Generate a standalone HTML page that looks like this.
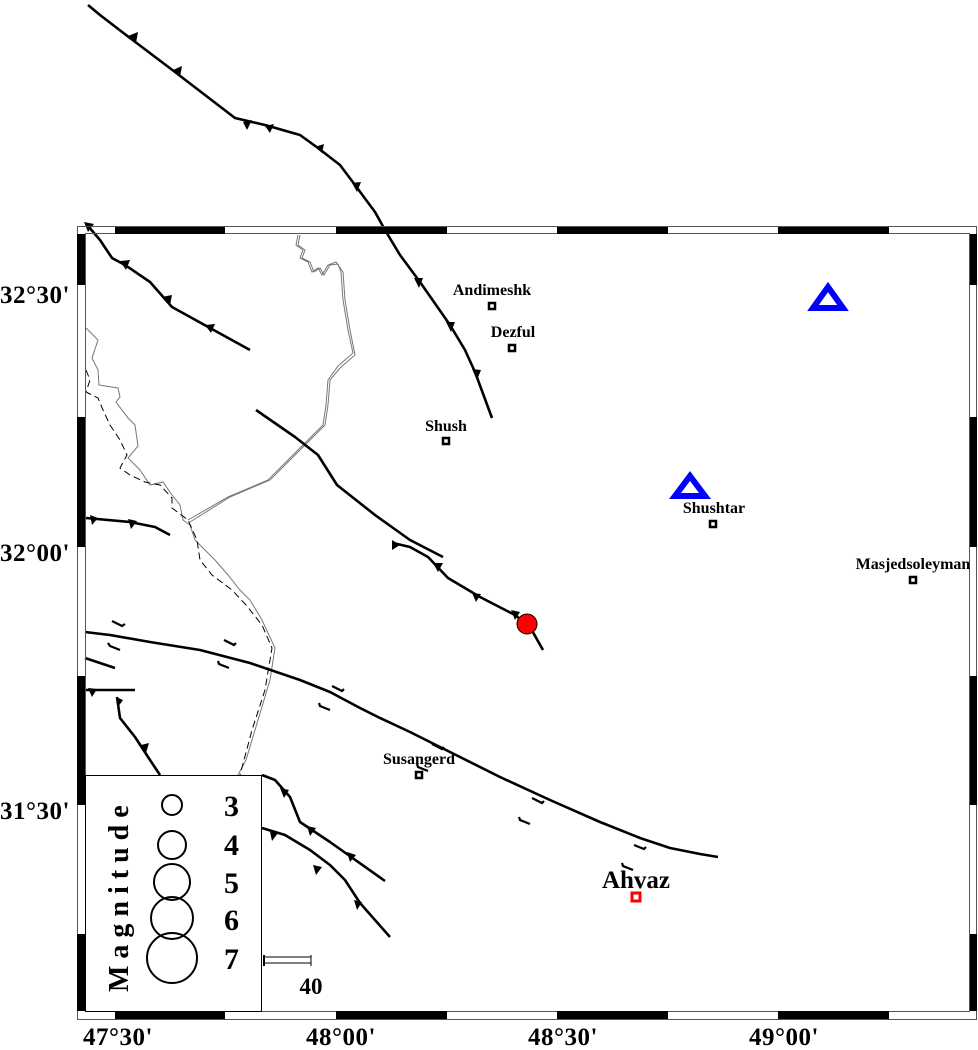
<!DOCTYPE html>
<html><head><meta charset="utf-8"><style>
html,body{margin:0;padding:0;background:#fff;}
svg{display:block;}
text{font-family:"Liberation Serif",serif;font-weight:bold;fill:#000;}
</style></head><body>
<svg width="978" height="1050" viewBox="0 0 978 1050" xmlns="http://www.w3.org/2000/svg">
<rect width="978" height="1050" fill="#fff"/>
<g fill="none" stroke="#777" stroke-width="1">
<path d="M298,235 L296,245 L303,250 L300,258 L308,262 L312,272 L318,268 L322,275 L328,265 L336,262 L343,272 L345,300 L350,330 L355,355 L340,368 L330,380 L328,405 L325,425 L305,445 L290,460 L270,480 L230,497 L190,522"/>
<path d="M300,235 L298,245 L305,250 L302,258 L310,262 L314,272 L320,268 L324,275 L330,265 L338,264 L341,272 L343,300 L348,330 L353,353 L338,366 L328,380 L326,405 L323,425 L303,445 L288,460 L268,480 L228,497 L188,520"/>
<path d="M86,328 L98,340 L92,358 L98,370 L99,385 L118,388 L120,397 L116,402 L128,418 L135,425 L138,446 L128,458 L140,470 L150,485 L163,482 L172,495 L180,505 L183,520 L190,525 L195,540 L205,550 L215,560 L228,575 L240,590 L250,600 L262,620 L275,648 L270,680 L258,720 L246,760 L238,775"/>
</g>
<path d="M86,370 L90,380 L86,392 L98,398 L103,410 L110,425 L120,440 L127,455 L120,468 L130,475 L145,482 L160,485 L172,498 L172,508 L188,520 L197,540 L200,560 L212,575 L232,590 L246,605 L262,625 L272,648 L265,690 L252,730 L240,775" fill="none" stroke="#000" stroke-width="1" stroke-dasharray="7,4"/>
<g fill="none" stroke="#000" stroke-width="2.6" stroke-linejoin="round">
<path d="M88,5 L100,15 L130,38 L175,72 L205,95 L235,118 L265,125 L300,135 L318,148 L340,165 L355,185 L375,212 L385,230 L400,255 L420,282 L450,325 L465,350 L475,372 L492,418"/>
<path d="M88,226 L100,240 L112,258 L125,265 L150,282 L172,307 L210,328 L250,350"/>
<path d="M256,410 L295,437 L318,455 L337,485 L375,515 L410,540 L443,557"/>
<path d="M393,543 L410,547 L428,557 L448,578 L480,597 L515,615 L530,627 L543,650"/>
<path d="M86,518 L130,522 L155,527 L170,535"/>
<path d="M85,632 L110,635 L150,642 L200,650 L250,663 L300,680 L330,692 L360,708 L380,718 L410,732 L430,742 L460,757 L500,777 L550,800 L600,822 L640,838 L670,848 L700,854 L718,857"/>
<path d="M86,690 L135,690"/>
<path d="M85,658 L115,668"/>
<path d="M117,697 L120,718 L135,737 L150,760 L160,775"/>
<path d="M262,775 L275,780 L290,797 L300,822 L330,842 L385,881"/>
<path d="M262,828 L285,835 L310,850 L330,865 L345,880 L360,903 L390,937"/>
</g>
<g fill="#000">
<polygon points="128,36 138,32 136,43"/>
<polygon points="173,70 182,66 180,77"/>
<polygon points="243,122 252,120 247,130"/>
<polygon points="265,126 274,124 270,133"/>
<polygon points="315,147 324,144 322,153"/>
<polygon points="352,183 361,182 357,192"/>
<polygon points="414,278 423,278 419,288"/>
<polygon points="446,322 455,322 451,332"/>
<polygon points="472,369 481,370 477,380"/>
<polygon points="84,222 94,224 88,232"/>
<polygon points="120,261 130,260 126,270"/>
<polygon points="162,297 172,295 170,305"/>
<polygon points="205,325 215,324 211,333"/>
<polygon points="90,515 98,518 92,525"/>
<polygon points="128,519 137,521 131,529"/>
<polygon points="433,563 443,563 438,572"/>
<polygon points="472,593 481,594 476,602"/>
<polygon points="511,610 520,612 515,620"/>
<polygon points="392,540 400,545 392,550"/>
<polygon points="88,688 97,689 92,697"/>
<polygon points="116,697 123,700 118,707"/>
<polygon points="141,745 149,743 146,753"/>
<polygon points="280,788 289,790 284,798"/>
<polygon points="307,826 316,828 310,836"/>
<polygon points="347,852 356,855 350,862"/>
<polygon points="270,832 278,833 272,841"/>
<polygon points="313,865 322,867 316,875"/>
<polygon points="354,900 362,902 357,910"/>
</g>
<g fill="none" stroke="#000" stroke-width="2.2">
<path d="M112,621 L122,626 L125,624"/><path d="M120,650 L110,646 L108,643"/>
<path d="M224,640 L234,645 L236,643"/><path d="M229,668 L219,664 L218,661"/>
<path d="M332,686 L342,691 L344,689"/><path d="M330,710 L320,706 L319,703"/>
<path d="M432,744 L442,749 L444,747"/><path d="M428,771 L418,767 L417,764"/>
<path d="M532,798 L542,803 L544,801"/><path d="M530,824 L520,820 L519,817"/>
<path d="M634,845 L644,849 L646,847"/><path d="M633,870 L623,866 L622,863"/>
</g>
<rect x="77.5" y="226.5" width="899" height="793" fill="none" stroke="#555" stroke-width="1"/>
<rect x="85.5" y="233.5" width="884" height="778" fill="none" stroke="#555" stroke-width="1"/>
<g fill="#000">
<rect x="115" y="227" width="110" height="7"/><rect x="336" y="227" width="111" height="7"/>
<rect x="557" y="227" width="111" height="7"/><rect x="778" y="227" width="111" height="7"/>
<rect x="115" y="1011" width="110" height="8"/><rect x="336" y="1011" width="111" height="8"/>
<rect x="557" y="1011" width="111" height="8"/><rect x="778" y="1011" width="111" height="8"/>
<rect x="77" y="234" width="8" height="51"/><rect x="77" y="417" width="8" height="130"/>
<rect x="77" y="676" width="8" height="129"/><rect x="77" y="934" width="8" height="77"/>
<rect x="970" y="234" width="7" height="51"/><rect x="970" y="417" width="7" height="130"/>
<rect x="970" y="676" width="7" height="129"/><rect x="970" y="934" width="7" height="77"/>
</g>
<g font-size="25" letter-spacing="0.5">
<text x="0" y="303">32°30'</text>
<text x="0" y="561">32°00'</text>
<text x="0" y="819">31°30'</text>
<text x="118" y="1045" text-anchor="middle">47°30'</text>
<text x="341" y="1045" text-anchor="middle">48°00'</text>
<text x="563" y="1045" text-anchor="middle">48°30'</text>
<text x="784" y="1045" text-anchor="middle">49°00'</text>
</g>
<g font-size="16" text-anchor="middle">
<text x="492" y="295">Andimeshk</text>
<text x="513" y="337">Dezful</text>
<text x="446" y="431">Shush</text>
<text x="714" y="513">Shushtar</text>
<text x="913" y="569">Masjedsoleyman</text>
<text x="419" y="764">Susangerd</text>
</g>
<g fill="#fff" stroke="#000" stroke-width="2.5">
<rect x="489" y="303" width="6" height="6"/>
<rect x="509" y="345" width="6" height="6"/>
<rect x="443" y="438" width="6" height="6"/>
<rect x="710" y="521" width="6" height="6"/>
<rect x="910" y="577" width="6" height="6"/>
<rect x="416" y="772" width="6" height="6"/>
</g>
<text x="636" y="888" font-size="25" text-anchor="middle">Ahvaz</text>
<rect x="632" y="893" width="8" height="8" fill="#fff" stroke="#f00" stroke-width="3"/>
<polygon points="828,287 843,308 813,308" fill="none" stroke="#00f" stroke-width="6"/>
<polygon points="690,476 705,496 675,496" fill="none" stroke="#00f" stroke-width="6"/>
<circle cx="527" cy="624" r="10" fill="#f00" stroke="#000" stroke-width="1"/>
<rect x="85.5" y="775.5" width="176" height="236" fill="#fff" stroke="#000" stroke-width="1"/>
<text transform="translate(128,992) rotate(-90)" font-size="28" letter-spacing="7">Magnitude</text>
<g fill="none" stroke="#000" stroke-width="2">
<circle cx="172" cy="805" r="10"/>
<circle cx="172" cy="845" r="14"/>
<circle cx="172" cy="882" r="18"/>
<circle cx="172" cy="918" r="21"/>
<circle cx="172" cy="958" r="25"/>
</g>
<g font-size="30">
<text x="224" y="816">3</text>
<text x="224" y="855">4</text>
<text x="224" y="893">5</text>
<text x="224" y="930">6</text>
<text x="224" y="969">7</text>
</g>
<rect x="264" y="957" width="47" height="6" fill="#fff" stroke="#000" stroke-width="1"/>
<line x1="264" y1="955" x2="264" y2="966" stroke="#000" stroke-width="2"/>
<line x1="311" y1="955" x2="311" y2="966" stroke="#000" stroke-width="1"/>
<text x="311" y="994" font-size="23" text-anchor="middle">40</text>
</svg>
</body></html>
